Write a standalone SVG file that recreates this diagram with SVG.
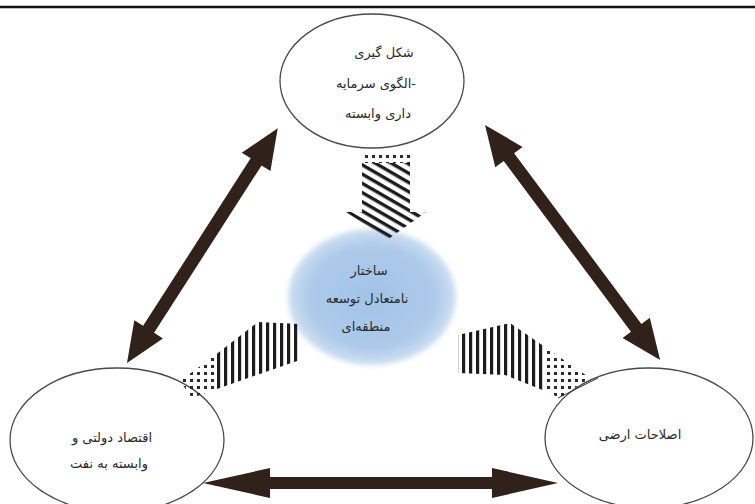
<svg xmlns="http://www.w3.org/2000/svg" width="755" height="504" viewBox="0 0 755 504">
  <style>
    .node { fill: #ffffff; stroke: #4a4a4a; stroke-width: 1.3; }
    .lbl { font-family: "DejaVu Sans", "Noto Sans", sans-serif; font-size: 13px; fill: #2a2a2a; text-anchor: middle; }
    .dark { fill: #30221a; }
  </style>
  <defs>
    <radialGradient id="blueGrad" cx="50%" cy="50%" r="50%">
      <stop offset="0" stop-color="#a3c3e6"/>
      <stop offset="0.75" stop-color="#adcaea"/>
      <stop offset="1" stop-color="#cfe0f2"/>
    </radialGradient>
    <filter id="soft" x="-20%" y="-20%" width="140%" height="140%">
      <feGaussianBlur stdDeviation="2.5"/>
    </filter>
    <pattern id="diag" width="8" height="8" patternUnits="userSpaceOnUse" patternTransform="rotate(30)">
      <rect x="0" y="0" width="8" height="3.4" fill="#1c1c1c"/>
    </pattern>
    <pattern id="vert" width="7" height="7" patternUnits="userSpaceOnUse">
      <rect x="0" y="0" width="3.2" height="7" fill="#1c1c1c"/>
    </pattern>
    <pattern id="dots" width="7" height="7" patternUnits="userSpaceOnUse">
      <rect x="1" y="1" width="3" height="3" fill="#2a2a2a"/>
    </pattern>
  </defs>

  <rect width="755" height="504" fill="#ffffff"/>
  <line x1="0" y1="7" x2="755" y2="7" stroke="#111" stroke-width="2.5"/>

  <g id="node-center">
    <ellipse cx="372" cy="297" rx="84" ry="68" fill="url(#blueGrad)" filter="url(#soft)"/>
    <text class="lbl" x="369" y="275">ساختار</text>
    <text class="lbl" x="367" y="303">نامتعادل توسعه</text>
    <text class="lbl" x="366" y="331">منطقه‌ای</text>
  </g>

  <g id="node-top">
    <ellipse class="node" cx="372" cy="81" rx="92" ry="67"/>
    <text class="lbl" x="384" y="57">شکل گیری</text>
    <text class="lbl" x="376" y="88" direction="ltr" unicode-bidi="embed">الگوی سرمایه-</text>
    <text class="lbl" x="378" y="118">داری وابسته</text>
  </g>

  <g id="node-left">
    <ellipse class="node" cx="117" cy="440" rx="107" ry="72"/>
    <text class="lbl" x="112" y="442">اقتصاد دولتی و</text>
    <text class="lbl" x="109" y="468">وابسته به نفت</text>
  </g>

  <g id="node-right">
    <ellipse class="node" cx="649" cy="438" rx="104" ry="70"/>
    <text class="lbl" x="640" y="439">اصلاحات ارضی</text>
  </g>

  <g id="connectors">
    <path class="dark" transform="translate(127,363) rotate(-57.3)" d="M0,0 L40,-17 L40,-6.5 L239,-6.5 L239,-17 L279,0 L239,17 L239,6.5 L40,6.5 L40,17 Z"/>
    <path class="dark" transform="translate(485,125) rotate(53.3)" d="M0,0 L40,-17 L40,-6.5 L253,-6.5 L253,-17 L293,0 L253,17 L253,6.5 L40,6.5 L40,17 Z"/>
    <path class="dark" d="M203,483 L270,468 L270,477 L492,477 L492,468 L558,483 L492,498 L492,489 L270,489 L270,498 Z"/>

    <g id="hatch-top">
      <polygon fill="url(#dots)" points="362,153 410,153 410,163 362,163"/>
      <polygon fill="url(#diag)" points="362,163 410,163 410,212 426,212 387,240 346,212 362,212"/>
    </g>
    <g id="hatch-left">
      <polygon fill="url(#dots)" points="180,381 214,356 214,390 192,398"/>
      <polygon fill="url(#vert)" points="214,356 258,322 300,324 300,360 214,390"/>
    </g>
    <g id="hatch-right">
      <polygon fill="url(#vert)" points="458,335 510,323 545,347 545,391 505,375 458,373"/>
      <polygon fill="url(#dots)" points="545,347 590,378 560,398 545,391"/>
      <line x1="558" y1="398" x2="598" y2="378" stroke="#333" stroke-width="1"/>
    </g>
  </g>
</svg>
